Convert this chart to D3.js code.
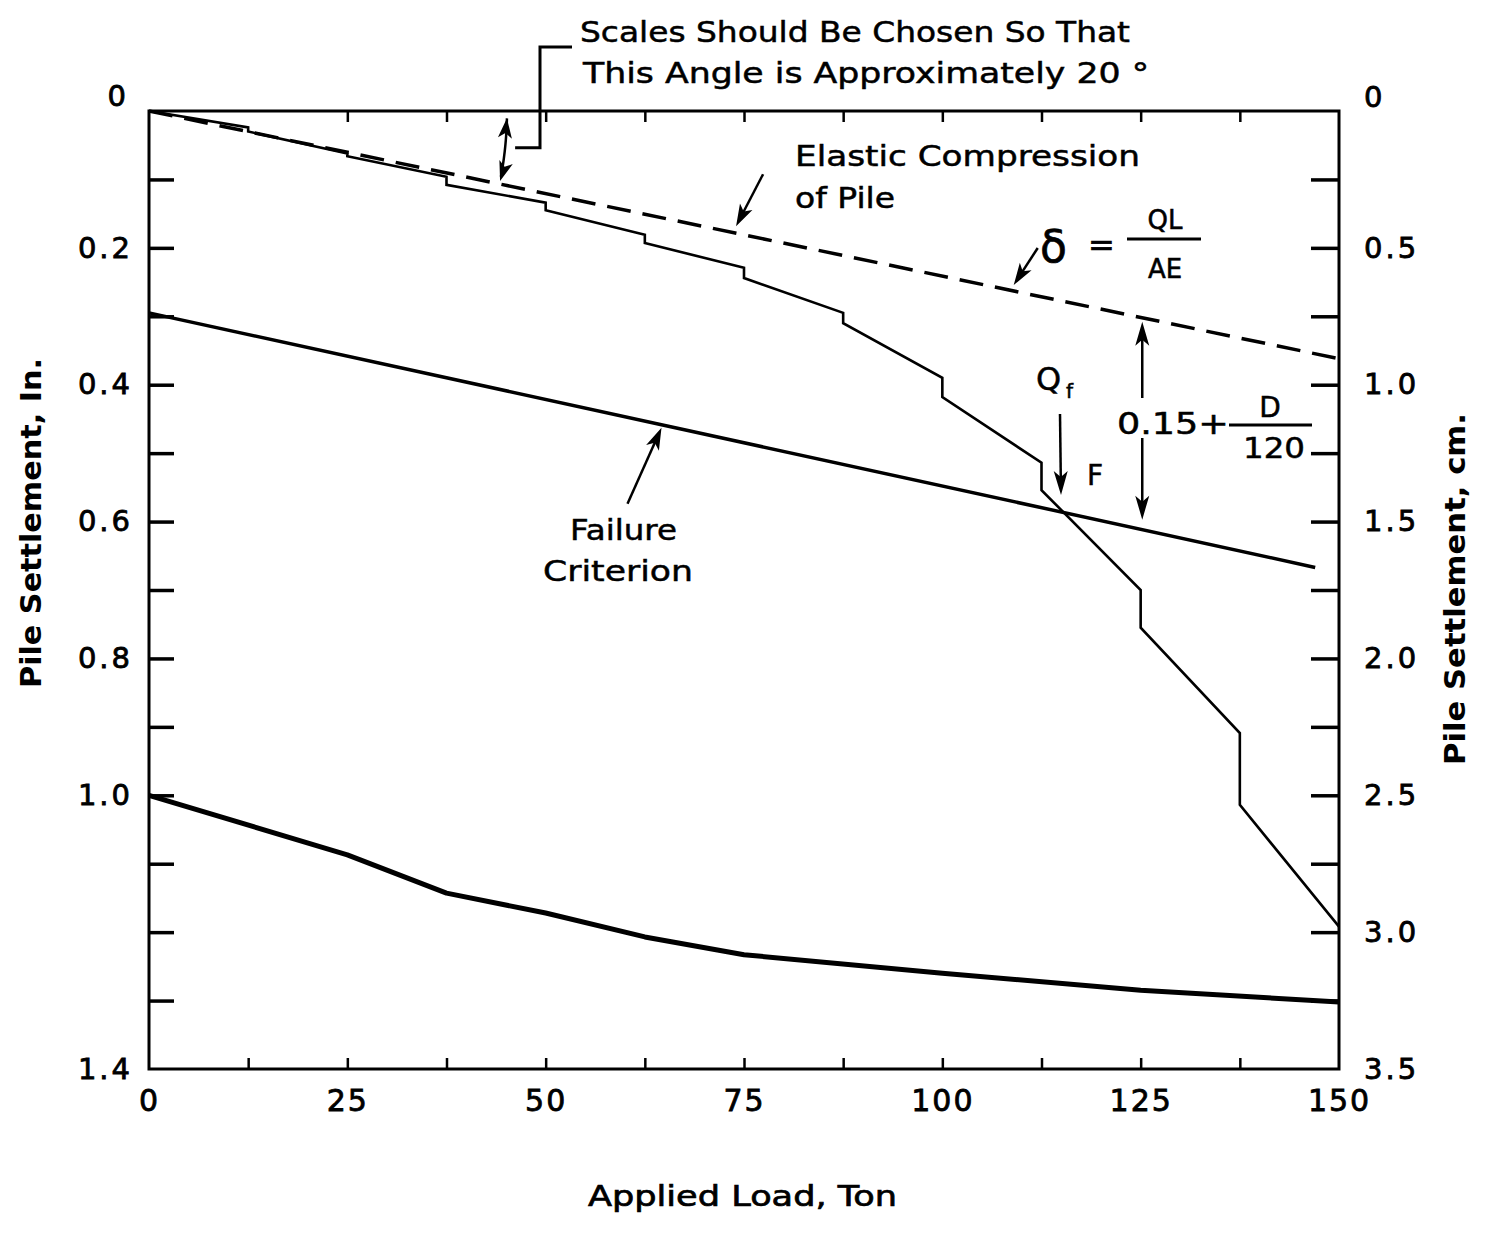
<!DOCTYPE html>
<html>
<head>
<meta charset="utf-8">
<script src="https://cdn.jsdelivr.net/npm/d3@7"></script>
<style>
  body { margin: 0; background: #fff; }
  svg { display: block; background: #fff; }
  text { font-family: "DejaVu Sans", "Liberation Sans", sans-serif; fill: #000; }
</style>
</head>
<body>
<svg id="chart" width="1488" height="1247"></svg>
<script>
// ---- Load test record (load in tons, settlement in inches) ----
// Each load increment gives the reading on application and at the end of the hold.
const testLoads      = [0, 12.5, 12.5, 25, 25, 37.5, 37.5, 50, 50, 62.5, 62.5, 75, 75, 87.5, 87.5, 100, 100, 112.5, 112.5, 125, 125, 137.5, 137.5, 150];
const testSettlement = [0, 0.024, 0.030, 0.062, 0.066, 0.096, 0.108, 0.134, 0.145, 0.181, 0.193, 0.229, 0.244, 0.295, 0.310, 0.390, 0.418, 0.514, 0.554, 0.700, 0.755, 0.909, 1.014, 1.192];

// Lower load-settlement curve
const lowerLoads      = [0, 25, 37.5, 50, 62.5, 75, 100, 125, 150];
const lowerSettlement = [1.0, 1.087, 1.143, 1.172, 1.207, 1.233, 1.260, 1.285, 1.302];

// Elastic compression of pile, delta = QL/AE
const elasticLoads      = [0, 150];
const elasticSettlement = [0, 0.362];

// Failure criterion: elastic line offset by 0.15 + D/120
const failureLoads      = [0, 147];
const failureSettlement = [0.295, 0.667];

// Axis ticks and labels
const loadTickValues   = [0, 25, 50, 75, 100, 125, 150];
const loadTickLabels   = ["0", "25", "50", "75", "100", "125", "150"];
const loadMinorBottom  = [12.5, 25, 37.5, 50, 62.5, 75, 87.5, 100, 112.5, 125, 137.5];
const loadMinorTop     = [25, 37.5, 50, 62.5, 75, 87.5, 100, 112.5, 125, 137.5];
const inchTickValues   = [0, 0.2, 0.4, 0.6, 0.8, 1.0, 1.4];
const inchTickLabels   = ["0", "0.2", "0.4", "0.6", "0.8", "1.0", "1.4"];
const inchMinor        = [0.1, 0.2, 0.3, 0.4, 0.5, 0.6, 0.7, 0.8, 0.9, 1.0, 1.1, 1.2, 1.3];
const cmTickValues     = [0, 0.5, 1.0, 1.5, 2.0, 2.5, 3.0, 3.5];
const cmTickLabels     = ["0", "0.5", "1.0", "1.5", "2.0", "2.5", "3.0", "3.5"];
const cmMinor          = [0.25, 0.5, 0.75, 1.0, 1.25, 1.5, 1.75, 2.0, 2.25, 2.5, 2.75, 3.0, 3.25];

const svg = d3.select("#chart");

const x   = d3.scaleLinear().domain([0, 150]).range([149, 1339]);
const y   = d3.scaleLinear().domain([0, 1.4]).range([111, 1069]);
const yCm = d3.scaleLinear().domain([0, 3.5]).range([111, 1069]);

const elasticAt = L => elasticSettlement[0] + (elasticSettlement[1] - elasticSettlement[0]) * (L - elasticLoads[0]) / (elasticLoads[1] - elasticLoads[0]);
const failureAt = L => failureSettlement[0] + (failureSettlement[1] - failureSettlement[0]) * (L - failureLoads[0]) / (failureLoads[1] - failureLoads[0]);

// ---- Frame ----
svg.append("rect")
  .attr("x", x(0)).attr("y", y(0))
  .attr("width", x(150) - x(0)).attr("height", y(1.4) - y(0))
  .attr("fill", "none").attr("stroke", "#000").attr("stroke-width", 3);

// ---- Inward tick marks ----
function tickStyle(width) {
  return g => {
    g.select(".domain").remove();
    g.selectAll("text").remove();
    g.selectAll(".tick line").attr("stroke", "#000").attr("stroke-width", width);
  };
}
svg.append("g").attr("transform", `translate(${x(0)},0)`)
  .call(d3.axisRight(y).tickValues(inchMinor).tickSize(25).tickFormat(""))
  .call(tickStyle(3.5));
svg.append("g").attr("transform", `translate(${x(150)},0)`)
  .call(d3.axisLeft(yCm).tickValues(cmMinor).tickSize(28).tickFormat(""))
  .call(tickStyle(3.5));
svg.append("g").attr("transform", `translate(0,${y(1.4)})`)
  .call(d3.axisTop(x).tickValues(loadMinorBottom).tickSize(11).tickFormat(""))
  .call(tickStyle(2.5));
svg.append("g").attr("transform", `translate(0,${y(0)})`)
  .call(d3.axisBottom(x).tickValues(loadMinorTop).tickSize(11).tickFormat(""))
  .call(tickStyle(2.5));

// ---- Tick labels ----
function labelStyle(size, spacing) {
  return g => {
    g.select(".domain").remove();
    g.attr("font-family", null).attr("font-size", null);
    g.selectAll("text")
      .style("font-size", size + "px")
      .style("letter-spacing", spacing + "px")
      .attr("fill", "#000").attr("stroke", "#000").attr("stroke-width", 0.8);
  };
}
svg.append("g").attr("transform", `translate(${x(0)},0)`)
  .call(d3.axisLeft(y).tickValues(inchTickValues).tickFormat((d, i) => inchTickLabels[i]).tickSize(0).tickPadding(16))
  .call(labelStyle(29, 3))
  .call(g => g.selectAll(".tick").filter(d => d === 0).select("text").attr("dy", "-0.2em").attr("x", -20));
svg.append("g").attr("transform", `translate(${x(150)},0)`)
  .call(d3.axisRight(yCm).tickValues(cmTickValues).tickFormat((d, i) => cmTickLabels[i]).tickSize(0).tickPadding(25))
  .call(labelStyle(29, 3))
  .call(g => g.selectAll(".tick").filter(d => d === 0).select("text").attr("dy", "-0.15em"));
svg.append("g").attr("transform", `translate(0,${y(1.4)})`)
  .call(d3.axisBottom(x).tickValues(loadTickValues).tickFormat((d, i) => loadTickLabels[i]).tickSize(0).tickPadding(21))
  .call(labelStyle(30, 2));

// ---- Axis titles ----
svg.append("text")
  .attr("transform", `translate(41,${(358 + 688) / 2}) rotate(-90)`)
  .attr("text-anchor", "middle").attr("font-size", 29).attr("font-weight", "bold")
  .attr("textLength", 330).attr("lengthAdjust", "spacingAndGlyphs")
  .text("Pile Settlement, In.");
svg.append("text")
  .attr("transform", `translate(1465,${(413 + 765) / 2}) rotate(-90)`)
  .attr("text-anchor", "middle").attr("font-size", 29).attr("font-weight", "bold")
  .attr("textLength", 352).attr("lengthAdjust", "spacingAndGlyphs")
  .text("Pile Settlement, cm.");
svg.append("text")
  .attr("x", 588).attr("y", 1206).attr("font-size", 29)
  .attr("textLength", 309).attr("lengthAdjust", "spacingAndGlyphs")
  .attr("stroke", "#000").attr("stroke-width", 0.7)
  .text("Applied Load, Ton");

// ---- Curves ----
const line = d3.line().x(d => x(d[0])).y(d => y(d[1]));

svg.append("path")
  .datum(d3.zip(lowerLoads, lowerSettlement))
  .attr("d", line).attr("fill", "none")
  .attr("stroke", "#000").attr("stroke-width", 5).attr("stroke-linejoin", "round");

svg.append("path")
  .datum(d3.zip(failureLoads, failureSettlement))
  .attr("d", line).attr("fill", "none")
  .attr("stroke", "#000").attr("stroke-width", 3.5);

svg.append("path")
  .datum(d3.zip(elasticLoads, elasticSettlement))
  .attr("d", line).attr("fill", "none")
  .attr("stroke", "#000").attr("stroke-width", 3.5).attr("stroke-dasharray", "24,12");

svg.append("path")
  .datum(d3.zip(testLoads, testSettlement))
  .attr("d", line).attr("fill", "none")
  .attr("stroke", "#000").attr("stroke-width", 2.6).attr("stroke-linejoin", "miter");

// ---- Annotations ----
const ann = svg.append("g");

function head(tx, ty, ang, len = 20, w = 6) {
  const bx = tx - len * Math.cos(ang), by = ty - len * Math.sin(ang);
  const nx = -Math.sin(ang) * w, ny = Math.cos(ang) * w;
  ann.append("path")
    .attr("d", `M${tx},${ty}L${bx + nx},${by + ny}L${bx + len * 0.25 * Math.cos(ang)},${by + len * 0.25 * Math.sin(ang)}L${bx - nx},${by - ny}Z`)
    .attr("fill", "#000");
}
function arrow(x1, y1, x2, y2, sw = 2.5, len = 20, w = 6) {
  const ang = Math.atan2(y2 - y1, x2 - x1);
  ann.append("line")
    .attr("x1", x1).attr("y1", y1)
    .attr("x2", x2 - len * 0.6 * Math.cos(ang)).attr("y2", y2 - len * 0.6 * Math.sin(ang))
    .attr("stroke", "#000").attr("stroke-width", sw);
  head(x2, y2, ang, len, w);
}
function label(str, px, py, size, len, opts = {}) {
  const t = ann.append("text").attr("x", px).attr("y", py).attr("font-size", size)
    .attr("stroke", "#000").attr("stroke-width", opts.sw == null ? 0.5 : opts.sw);
  if (opts.anchor) t.attr("text-anchor", opts.anchor);
  if (len) t.attr("textLength", len).attr("lengthAdjust", "spacingAndGlyphs");
  t.text(str);
  return t;
}

// Angle between the load axis and the elastic line
const ox = x(0), oy = y(0);
const theta = Math.atan2(y(elasticSettlement[1]) - oy, x(elasticLoads[1]) - ox);
const R = 358;
const arcPts = d3.range(0, 1.0001, 0.05).map(t => [ox + R * Math.cos(theta * t), oy + R * Math.sin(theta * t)]);
ann.append("path").attr("d", d3.line()(arcPts.slice(2, -2)))
  .attr("fill", "none").attr("stroke", "#000").attr("stroke-width", 2.5);
head(ox + R * Math.cos(0.02), oy + R * Math.sin(0.02), -Math.PI / 2 + 0.1, 20, 7);
head(ox + R * Math.cos(theta * 0.96), oy + R * Math.sin(theta * 0.96), theta + Math.PI / 2 + 0.1, 20, 7);

// Leader from the angle to the note above the chart
const midX = ox + R * Math.cos(theta / 2) + 10, midY = oy + R * Math.sin(theta / 2);
ann.append("path")
  .attr("d", `M${midX},${midY}H540V47H572`)
  .attr("fill", "none").attr("stroke", "#000").attr("stroke-width", 3);

label("Scales Should Be Chosen So That", 580, 42, 29, 550);
label("This Angle is Approximately 20 \u00B0", 583, 83, 29, 566);

// Elastic compression note
label("Elastic Compression", 795, 166, 29, 345);
label("of Pile", 795, 208, 29, 100);
{
  const L = 74;
  const tx = x(L), ty = y(elasticAt(L)) - 7;
  arrow(tx + 27, ty - 52, tx, ty, 2.5, 22, 7);
}

// delta = QL / AE
label("\u03B4", 1040, 262, 44, null, { sw: 0.7 });
label("=", 1088, 256, 32, null, { sw: 0.7 });
label("QL", 1165, 229, 26, null, { anchor: "middle" });
ann.append("line").attr("x1", 1127).attr("x2", 1201).attr("y1", 239).attr("y2", 239)
  .attr("stroke", "#000").attr("stroke-width", 3);
label("AE", 1165, 278, 26, null, { anchor: "middle" });
{
  const L = 109;
  const tx = x(L), ty = y(elasticAt(L)) - 6;
  arrow(tx + 24, ty - 37, tx, ty, 2.5, 22, 7);
}

// Qf and point F
label("Q", 1036, 390, 32, null);
label("f", 1066, 398, 20, null);
arrow(1060, 414, 1061, 495, 2.5, 24, 7);
label("F", 1087, 485, 28, null);

// 0.15 + D/120 offset between the elastic line and the failure criterion
{
  const L = 125.2;
  const ax = x(L);
  const topY = y(elasticAt(L)) + 4;
  const botY = y(failureAt(L)) - 10;
  arrow(ax, 398, ax, topY, 2.5, 24, 7);
  arrow(ax, 438, ax, botY, 2.5, 24, 7);
}
label("0.15+", 1117, 434, 30, 112);
label("D", 1270, 417, 28, null, { anchor: "middle" });
ann.append("line").attr("x1", 1229).attr("x2", 1312).attr("y1", 425).attr("y2", 425)
  .attr("stroke", "#000").attr("stroke-width", 3);
label("120", 1274, 458, 28, 62, { anchor: "middle" });

// Failure criterion note
label("Failure", 570, 540, 29, 107);
label("Criterion", 543, 581, 29, 150);
{
  const L = 64.6;
  const tx = x(L), ty = y(failureAt(L)) + 3;
  arrow(tx - 34, ty + 76, tx, ty, 2.5, 22, 7);
}
</script>
</body>
</html>
